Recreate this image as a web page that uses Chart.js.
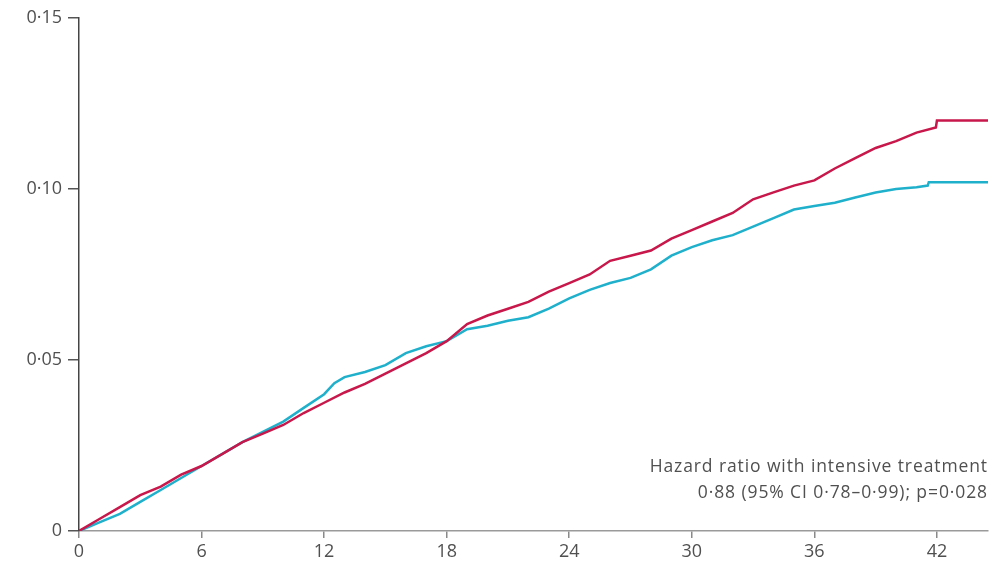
<!DOCTYPE html>
<html>
<head>
<meta charset="utf-8">
<script src="https://cdn.jsdelivr.net/npm/chart.js@4.4.1/dist/chart.umd.min.js"></script>
<style>
  html, body { margin: 0; padding: 0; background: #ffffff; }
  #wrap { position: relative; width: 1005px; height: 566px; }
</style>
</head>
<body>
<div id="wrap"><canvas id="c" width="1005" height="566"></canvas></div>
<script>
// ---- data ----
const xTicks = [0, 6, 12, 18, 24, 30, 36, 42];
const yTicks = [0, 0.05, 0.10, 0.15];

const redMonths = [0,1,2,3,4,5,6,7,8,9,10,11,12,13,14,15,16,17,18,19,20,21,22,23,24,25,26,27,28,29,30,31,32,33,34,35,36,37,38,39,40,41,41.95,42,44.5];
const redValues = [0,0.0035,0.007,0.0105,0.013,0.0165,0.019,0.0225,0.026,0.0285,0.031,0.0345,0.0375,0.0405,0.043,0.046,0.049,0.052,0.0555,0.0605,0.063,0.065,0.067,0.070,0.0725,0.075,0.079,0.0805,0.082,0.0855,0.088,0.0905,0.093,0.097,0.099,0.101,0.1025,0.106,0.109,0.112,0.114,0.1165,0.118,0.120,0.120];

const cyanMonths = [0,1,2,3,4,5,6,7,8,9,10,11,12,12.5,13,14,15,16,17,18,19,20,21,22,23,24,25,26,27,28,29,30,31,32,33,34,35,36,37,38,39,40,41,41.55,41.6,44.5];
const cyanValues = [0,0.0025,0.005,0.0085,0.012,0.0155,0.019,0.0225,0.026,0.029,0.032,0.036,0.040,0.0432,0.045,0.0465,0.0485,0.052,0.054,0.0555,0.059,0.060,0.0615,0.0625,0.065,0.068,0.0705,0.0725,0.074,0.0765,0.0805,0.083,0.085,0.0865,0.089,0.0915,0.094,0.095,0.096,0.0975,0.099,0.100,0.1005,0.101,0.102,0.102];

const annotationLines = ["Hazard ratio with intensive treatment", "0\u00b788 (95% CI 0\u00b778\u20130\u00b799); p=0\u00b7028"];

const FONT = "'Open Sans', Lato, 'DejaVu Sans', sans-serif";
const TEXT_COLOR = '#505050';

function pts(xs, ys) { return xs.map((x, i) => ({ x: x, y: ys[i] })); }
function fmt(v) {
  if (Math.abs(v) < 1e-9) return '0';
  return v.toFixed(2).replace('.', '\u00b7');
}

const annotationPlugin = {
  id: 'annot',
  afterDraw(chart) {
    const ctx = chart.ctx;
    const area = chart.chartArea;
    ctx.save();
    ctx.font = '17.5px ' + FONT;
    if ('letterSpacing' in ctx) ctx.letterSpacing = '0.9px';
    ctx.fillStyle = TEXT_COLOR;
    ctx.textAlign = 'right';
    ctx.textBaseline = 'middle';
    ctx.fillText(annotationLines[0], area.right, 467);
    ctx.fillText(annotationLines[1], area.right, 493);
    ctx.restore();
  }
};

new Chart(document.getElementById('c'), {
  type: 'line',
  data: {
    datasets: [
      { label: 'Standard', data: pts(redMonths, redValues), borderColor: '#c8174a', borderWidth: 2.5, pointRadius: 0, tension: 0, fill: false },
      { label: 'Intensive', data: pts(cyanMonths, cyanValues), borderColor: '#1fb0cc', borderWidth: 2.5, pointRadius: 0, tension: 0, fill: false }
    ]
  },
  options: {
    responsive: false,
    devicePixelRatio: 1,
    animation: false,
    layout: { padding: { left: 0, right: 17, top: 18, bottom: 0 } },
    plugins: { legend: { display: false }, tooltip: { enabled: false } },
    scales: {
      x: {
        type: 'linear',
        min: 0,
        max: 44.5,
        afterFit(s) { s.height = 35; },
        afterBuildTicks(s) { s.ticks = xTicks.map(v => ({ value: v })); },
        ticks: { includeBounds: false, padding: 3, color: TEXT_COLOR, font: { family: FONT, size: 18 }, maxRotation: 0, autoSkip: false },
        grid: { display: true, drawOnChartArea: false, drawTicks: true, tickLength: 7, color: '#8a8a8a', lineWidth: 1.5 },
        border: { display: true, color: '#9a9a9a', width: 1.5 }
      },
      y: {
        type: 'linear',
        min: 0,
        max: 0.15,
        afterFit(s) { s.width = 79; },
        afterBuildTicks(s) { s.ticks = yTicks.map(v => ({ value: v })); },
        ticks: { includeBounds: false, padding: 6, color: TEXT_COLOR, font: { family: FONT, size: 18 }, callback: (v) => fmt(v) },
        grid: { display: true, drawOnChartArea: false, drawTicks: true, tickLength: 11, color: '#555555', lineWidth: 1.5 },
        border: { display: true, color: '#444444', width: 1.5 }
      }
    }
  },
  plugins: [annotationPlugin]
});
</script>
</body>
</html>
